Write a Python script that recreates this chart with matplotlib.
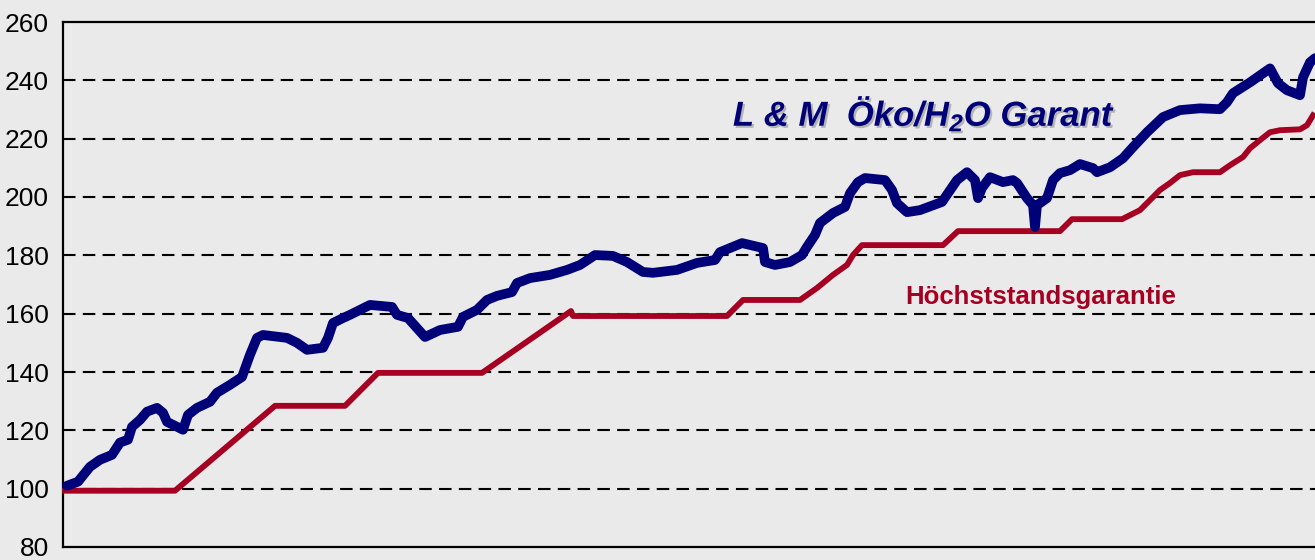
import matplotlib
matplotlib.use("Agg")
import matplotlib.pyplot as plt
import matplotlib.patheffects as pe

plt.rcParams['font.family'] = ['Liberation Sans', 'DejaVu Sans']
plt.rcParams['mathtext.fontset'] = 'custom'
plt.rcParams['mathtext.rm'] = 'Liberation Sans:bold:italic'
plt.rcParams['mathtext.it'] = 'Liberation Sans:bold:italic'
plt.rcParams['mathtext.bf'] = 'Liberation Sans:bold:italic'

# --- data (time axis in arbitrary units 0..100) ---
fund_x = [0.16, 1.04, 2.0, 2.8, 3.76, 4.4, 5.04, 5.36, 6.0, 6.56, 7.36, 7.84, 8.16, 9.44, 9.84,
          10.56, 11.6, 12.16, 13.2, 14.16, 14.8, 15.36, 15.84, 17.76, 18.56, 19.36, 20.64, 21.04,
          21.44, 22.24, 22.8, 24.4, 26.16, 26.56, 27.44, 28.8, 30.0, 31.44, 31.84, 32.96, 33.76,
          34.56, 35.76, 36.16, 37.2, 38.8, 40.16, 41.2, 42.4, 43.84, 44.96, 45.6, 46.24, 47.04,
          48.96, 50.56, 52.0, 52.4, 53.2, 54.16, 55.84, 56.0, 56.8, 58.0, 58.96, 59.36, 60.0,
          60.4, 61.44, 62.4, 62.8, 63.44, 64.0, 65.6, 66.16, 66.56, 67.36, 68.4, 70.16, 70.64,
          71.36, 72.16, 72.8, 73.04, 73.36, 74.0, 75.04, 75.84, 76.16, 76.96, 77.44, 77.6, 77.76,
          78.56, 79.04, 79.6, 80.4, 81.2, 82.24, 82.56, 83.6, 84.64, 85.44, 86.56, 87.84, 89.2,
          90.8, 92.4, 92.96, 93.44, 94.8, 96.4, 97.04, 97.76, 98.8, 99.04, 99.6, 100.0]
fund_y = [101.0, 102.4, 107.5, 109.9, 111.6, 115.8, 116.8, 121.2, 123.6, 126.4, 127.7, 126.0,
          122.9, 120.2, 125.3, 127.7, 129.8, 132.9, 135.6, 138.3, 145.9, 151.7, 152.7, 151.7,
          150.0, 147.6, 148.3, 151.7, 156.8, 158.5, 159.6, 163.0, 162.3, 159.6, 158.5, 152.0,
          154.4, 155.5, 158.9, 161.3, 164.7, 166.1, 167.4, 170.5, 172.2, 173.3, 175.0, 176.7,
          180.1, 179.8, 177.7, 176.0, 174.3, 174.0, 175.0, 177.4, 178.4, 181.1, 182.5, 184.2,
          182.5, 177.7, 176.7, 177.7, 180.1, 182.9, 187.0, 191.1, 194.5, 196.6, 201.3, 205.1,
          206.5, 205.8, 202.4, 197.9, 194.8, 195.5, 198.3, 201.3, 205.8, 208.5, 205.8, 199.6,
          203.1, 206.8, 205.1, 205.8, 204.8, 199.6, 197.2, 189.7, 197.2, 199.6, 205.8, 208.2,
          209.2, 211.3, 209.9, 208.5, 210.2, 213.3, 217.1, 222.2, 227.4, 229.8, 230.4, 230.1,
          232.5, 235.6, 239.3, 244.1, 239.0, 236.6, 234.9, 241.0, 246.2, 247.6]

guar_x = [0.0, 8.8, 16.8, 22.4, 25.04, 33.36, 40.48, 40.64, 52.96, 54.24, 58.8, 60.16, 61.44,
          62.56, 63.04, 63.76, 70.24, 71.44, 79.6, 80.56, 84.56, 86.0, 86.56, 87.6, 88.4, 89.2,
          90.24, 92.4, 93.2, 94.24, 94.8, 95.6, 96.4, 97.2, 98.8, 99.36, 99.84]
guar_y = [99.3, 99.3, 128.4, 128.4, 139.7, 139.7, 160.9, 159.2, 159.2, 164.7, 164.7, 168.8,
          173.3, 176.7, 180.1, 183.5, 183.5, 188.3, 188.3, 192.4, 192.4, 195.5, 197.9, 202.4,
          204.8, 207.5, 208.5, 208.5, 210.9, 213.7, 216.7, 219.5, 222.2, 222.9, 223.2, 224.6,
          228.0]

y_ticks = [80, 100, 120, 140, 160, 180, 200, 220, 240, 260]
fund_label = "L & M  Öko/H$_2$O Garant"
guar_label = "Höchststandsgarantie"

W, H = 1315, 560
bg = '#eaeaea'
fig = plt.figure(figsize=(W / 100, H / 100), dpi=100, facecolor=bg)
ax = fig.add_axes([63 / W, (H - 547) / H, (W - 63) / W, (547 - 22) / H], facecolor=bg)

ax.set_xlim(-0.16, 100.0)
ax.set_ylim(80, 260)
ax.set_yticks(y_ticks)
ax.set_xticks([])
ax.tick_params(axis='y', length=0, pad=10, labelsize=19, colors='black')

for yv in y_ticks[1:-1]:
    ax.axhline(yv, color='black', lw=1.5, ls=(0, (6, 3.5)), zorder=1)

for s in ['left', 'bottom', 'top']:
    ax.spines[s].set_linewidth(1.6)
    ax.spines[s].set_color('black')
ax.spines['right'].set_visible(False)

ax.plot(guar_x, guar_y, color='#a50021', lw=4.2, solid_joinstyle='round', zorder=3, clip_on=False)
ax.plot(fund_x, fund_y, color='#000078', lw=7.0, solid_joinstyle='round',
        solid_capstyle='round', zorder=4, clip_on=False)

ax.text(0.688, 0.826, fund_label, transform=ax.transAxes, ha='center', va='center',
        fontsize=25, fontweight='bold', fontstyle='italic', color='#000078',
        path_effects=[pe.withSimplePatchShadow(offset=(1.5, -1.5), shadow_rgbFace='#808080', alpha=0.5)])
ax.text(0.781, 0.476, guar_label, transform=ax.transAxes, ha='center', va='center',
        fontsize=18.5, fontweight='bold', color='#a50021')

fig.savefig('out.png', dpi=100, facecolor=bg)
